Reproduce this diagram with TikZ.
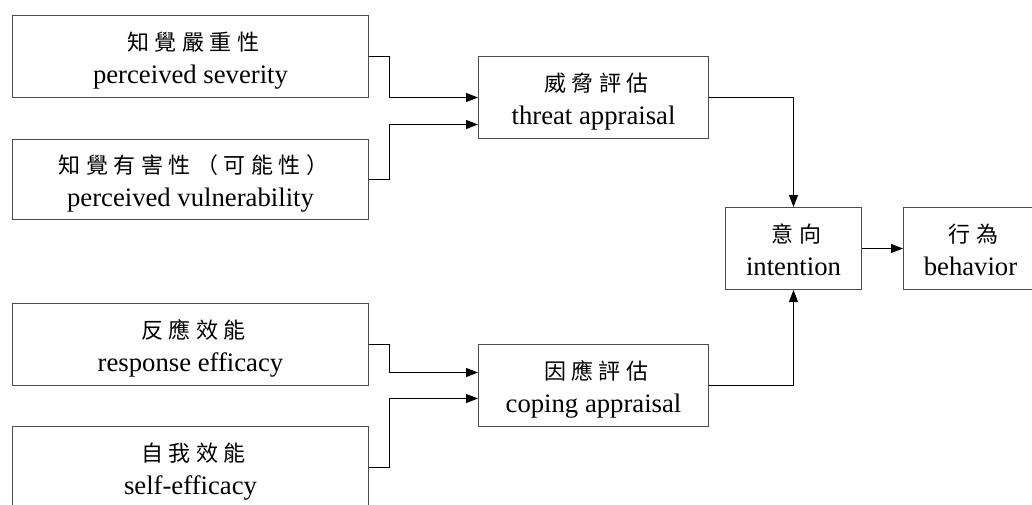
\documentclass[tikz,border=0pt]{standalone}
\usepackage{fontspec}
\setmainfont{Liberation Serif}
\newfontfamily\cjk[LetterSpace=25]{Noto Sans CJK TC}
\usetikzlibrary{arrows.meta}
\newcommand\zh[1]{{\cjk\fontsize{22}{33.4}\selectfont #1\kern-5.5pt}}
\begin{document}
\begin{tikzpicture}[x=1pt,y=-1pt,
  box/.style={draw=black!70, line width=1pt, fill=white, align=center, inner sep=0pt,
    font=\fontsize{26.7}{33.4}\selectfont, text height=60pt, text depth=6pt},
  arr/.style={draw=black, line width=1pt, -{Triangle[length=12pt,width=9pt]}}]
\useasboundingbox (0,0) rectangle (1032,505);
\clip (0,0) rectangle (1032,505);
\node[box, minimum width=356pt, minimum height=82pt] (sev) at (190.5,56.5) {\zh{知覺嚴重性}\\perceived severity};
\node[box, minimum width=356pt, minimum height=80pt] (vul) at (190.5,179.5) {\zh{知覺有害性（可能性）}\\perceived vulnerability};
\node[box, minimum width=356pt, minimum height=82pt] (resp) at (190.5,344.5) {\zh{反應效能}\\response efficacy};
\node[box, minimum width=356pt, minimum height=82pt] (self) at (190.5,467.5) {\zh{自我效能}\\self-efficacy};
\node[box, minimum width=230pt, minimum height=82pt] (threat) at (593.5,97.5) {\zh{威脅評估}\\threat appraisal};
\node[box, minimum width=230pt, minimum height=82pt] (coping) at (593.5,385.5) {\zh{因應評估}\\coping appraisal};
\node[box, minimum width=136pt, minimum height=82pt] (intention) at (793.5,248.5) {\zh{意向}\\intention};
\node[box, minimum width=134pt, minimum height=82pt] (behavior) at (970.5,248.5) {\zh{行為}\\behavior};
\draw[arr] (sev.east) -- ++(20,0) |- (threat.west);
\draw[arr] (vul.east) -- ++(20,0) |- ([yshift=-27pt]threat.west);
\draw[arr] (resp.east) -- ++(20,0) |- ([yshift=13pt]coping.west);
\draw[arr] (self.east) -- ++(20,0) |- ([yshift=-13pt]coping.west);
\draw[arr] (threat.east) -| (intention.north);
\draw[arr] (coping.east) -| (intention.south);
\draw[arr] (intention.east) -- (behavior.west);
\end{tikzpicture}
\end{document}
